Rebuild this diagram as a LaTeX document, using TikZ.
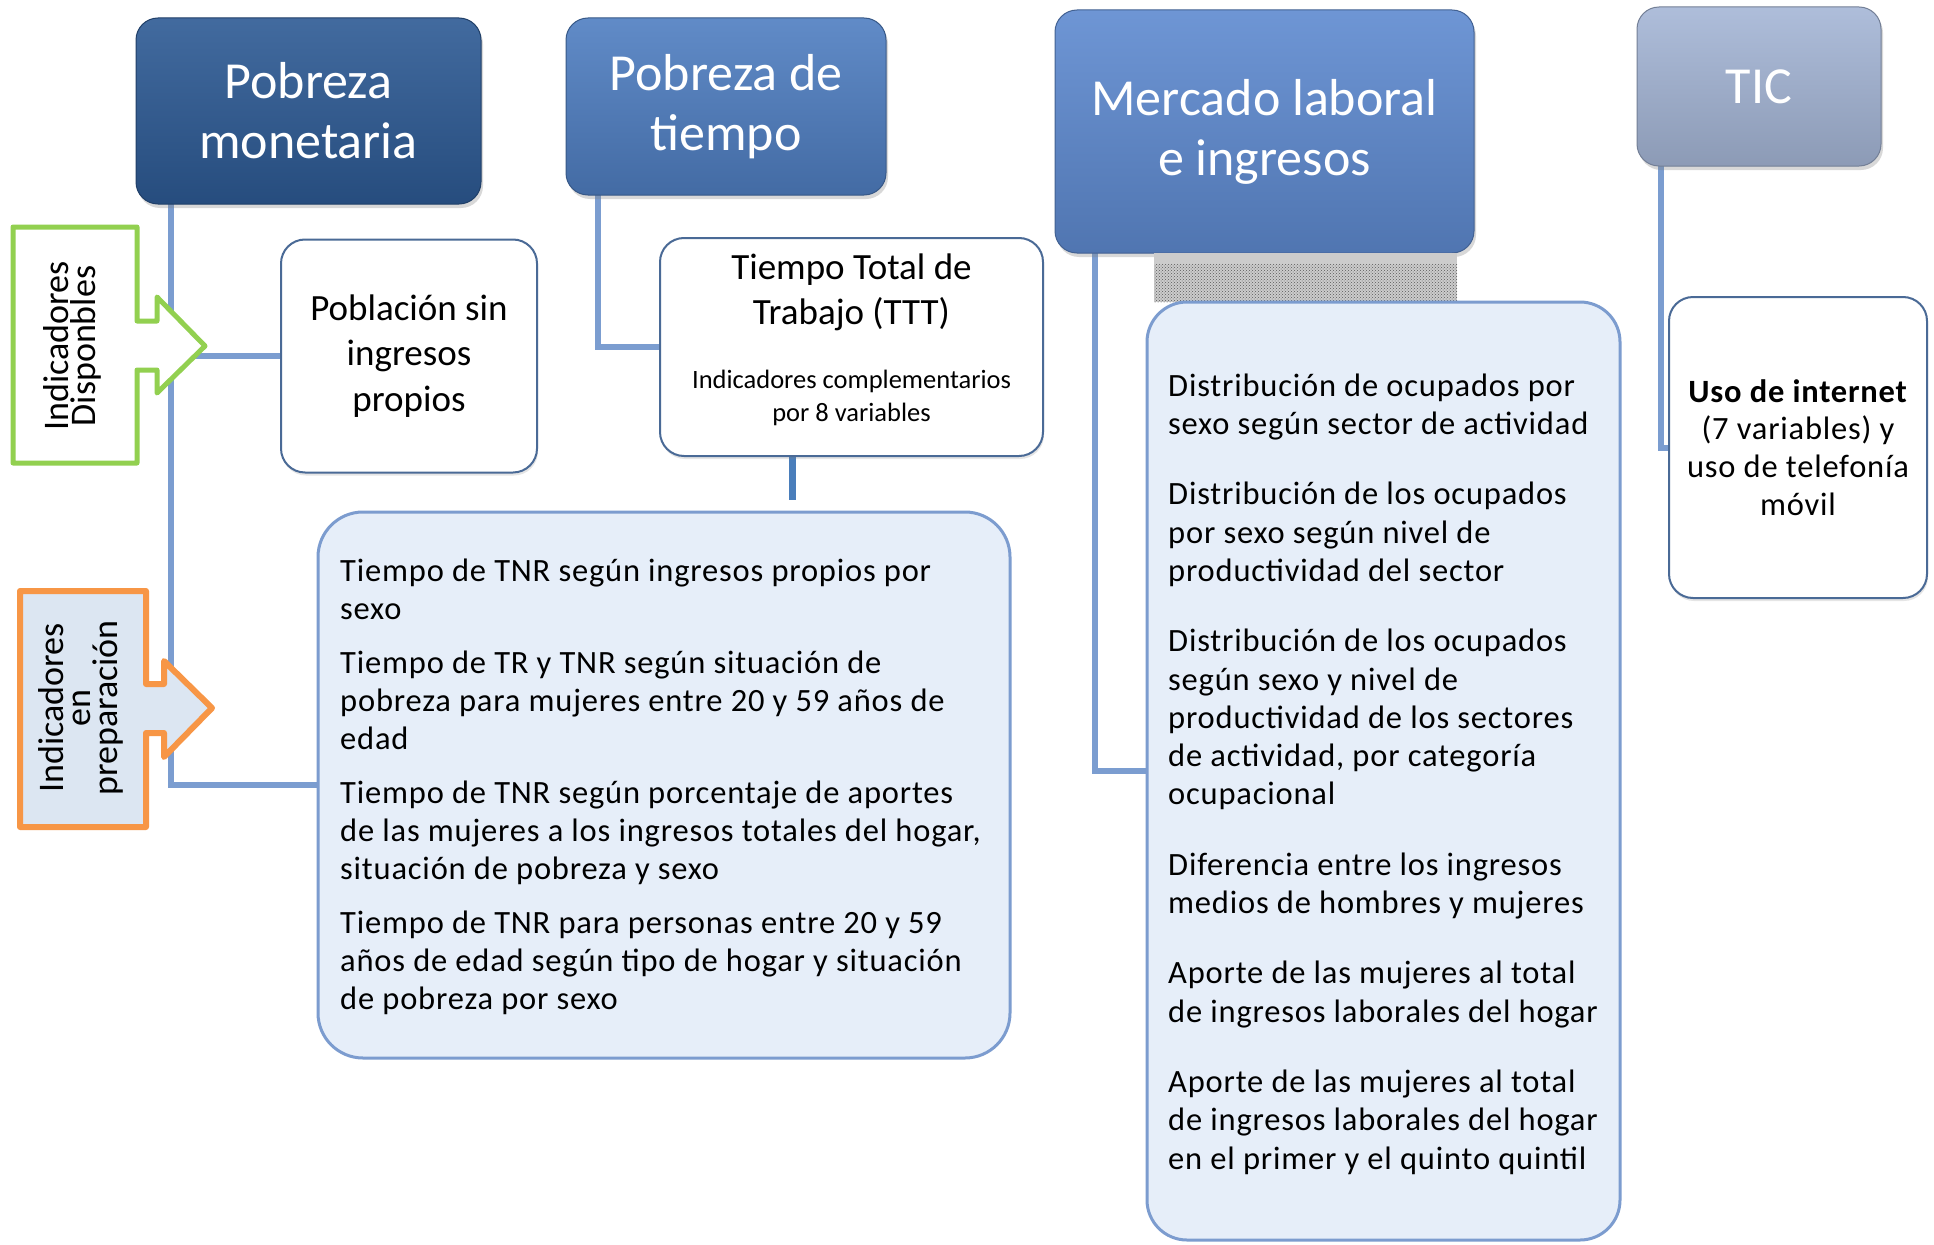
\documentclass[tikz,border=0pt]{standalone}
\usepackage{fontspec}
\setmainfont{Carlito}
\newfontfamily\spacedfont[LetterSpace=2.5]{Carlito}
\usetikzlibrary{positioning,shadows,patterns,backgrounds}

\definecolor{pmblue}{HTML}{2D5A94}
\definecolor{ptblue}{HTML}{4F7EC1}
\definecolor{mlblue}{HTML}{5E8AD0}
\definecolor{ticblue}{HTML}{A5B6D6}
\definecolor{boxedge}{HTML}{4A6A96}
\definecolor{panelfill}{HTML}{E6EEF9}
\definecolor{paneledge}{HTML}{7C9CCF}
\definecolor{connblue}{HTML}{7B9DD0}
\definecolor{linkblue}{HTML}{4A7EBB}
\definecolor{dispgreen}{HTML}{92D050}
\definecolor{preporange}{HTML}{F79646}
\definecolor{prepfill}{HTML}{DCE6F2}

\tikzset{
    header/.style={rounded corners=22pt, draw=#1!70!black, line width=1pt,
        top color=#1!90!white, bottom color=#1!85!black, text=white,
        align=center, inner sep=0pt, outer sep=0pt,
        font=\fontsize{52}{60}\selectfont,
        drop shadow={opacity=0.3, shadow xshift=2pt, shadow yshift=-4pt}},
    whitebox/.style={draw=boxedge, line width=2pt, fill=white, rounded corners=24pt,
        align=center, inner sep=0pt, outer sep=0pt,
        drop shadow={opacity=0.2, shadow xshift=1pt, shadow yshift=-3pt}},
    panel/.style={draw=paneledge, line width=3pt, fill=panelfill, rounded corners=45pt,
        inner sep=0pt, outer sep=0pt},
    listtext/.style={align=left, inner sep=0pt,
        font=\spacedfont\fontsize{32.5}{38.3}\selectfont},
    calltext/.style={align=center, inner sep=0pt, rotate=90,
        font=\fontsize{36}{27}\selectfont},
    conn/.style={draw=connblue, line width=6pt},
    tttlink/.style={draw=linkblue, line width=7pt},
    greenarrow/.style={draw=dispgreen, line width=5pt, fill=white, line join=round},
    orangearrow/.style={draw=preporange, line width=6pt, fill=prepfill, line join=round}
}

\begin{document}
\begin{tikzpicture}[x=1pt, y=-1pt]
    \useasboundingbox (0,0) rectangle (1934,1244);

    % cabeceras
    \node[header=pmblue, minimum width=345pt, minimum height=186pt] (pm) at (308.5,111) {Pobreza\\monetaria};
    \node[header=ptblue, minimum width=320pt, minimum height=177pt] (pt) at (726,106.5) {Pobreza de\\tiempo};
    \node[header=mlblue, minimum width=419pt, minimum height=243pt] (ml) at (1264.5,131.5) {Mercado laboral\\e ingresos};
    \node[header=ticblue, minimum width=244pt, minimum height=159pt] (tic) at (1759,86.5) {TIC};

    % sombra punteada bajo Mercado laboral
    \fill[gray!40] (1154,253) rectangle (1457,302);
    \fill[pattern=crosshatch dots, pattern color=gray!70!black] (1154,264) rectangle (1457,302);

    % cajas de indicadores
    \node[whitebox, minimum width=256pt, minimum height=233pt,
        font=\fontsize{37}{45.5}\selectfont] (pob) at (409,356) {Población sin\\ingresos\\propios};

    \node[whitebox, minimum width=383pt, minimum height=218pt] (ttt) at (851.5,347) {};
    \node[align=center, font=\fontsize{37}{45}\selectfont] (ttttitle) at (851.5,292) {Tiempo Total de\\Trabajo (TTT)};
    \node[align=center, font=\fontsize{26.5}{33}\selectfont] (tttsub) at (851.5,398) {Indicadores complementarios\\por 8 variables};

    \node[whitebox, minimum width=258pt, minimum height=301pt,
        font=\spacedfont\fontsize{32.5}{37.7}\selectfont] (ticbox) at (1798,447.5)
        {\textbf{Uso de internet}\\(7 variables) y\\uso de telefonía\\móvil};

    \node[panel, minimum width=692pt, minimum height=546pt] (tnr) at (664,785) {};
    \node[listtext, anchor=west] (tnrtext) at ([xshift=22pt, yshift=-2pt]tnr.west) {%
        Tiempo de TNR según ingresos propios por\\
        sexo\\[15pt]
        Tiempo de TR y TNR según situación de\\
        pobreza para mujeres entre 20 y 59 años de\\
        edad\\[15pt]
        Tiempo de TNR según porcentaje de aportes\\
        de las mujeres a los ingresos totales del hogar,\\
        situación de pobreza y sexo\\[15pt]
        Tiempo de TNR para personas entre 20 y 59\\
        años de edad según tipo de hogar y situación\\
        de pobreza por sexo};

    \node[panel, minimum width=473pt, minimum height=938pt, rounded corners=40pt] (mlbox) at (1383.5,771) {};
    \node[listtext, anchor=west] (mltext) at ([xshift=21pt, yshift=-3pt]mlbox.west) {%
        Distribución de ocupados por\\
        sexo según sector de actividad\\[32pt]
        Distribución de los ocupados\\
        por sexo según nivel de\\
        productividad del sector\\[32pt]
        Distribución de los ocupados\\
        según sexo y nivel de\\
        productividad de los sectores\\
        de actividad, por categoría\\
        ocupacional\\[32pt]
        Diferencia entre los ingresos\\
        medios de hombres y mujeres\\[32pt]
        Aporte de las mujeres al total\\
        de ingresos laborales del hogar\\[32pt]
        Aporte de las mujeres al total\\
        de ingresos laborales del hogar\\
        en el primer y el quinto quintil};

    % conectores
    \coordinate (tnrgap) at (792,500);
    \begin{pgfonlayer}{background}
        \fill[white] (0,0) rectangle (1934,1244);
        \draw[conn] ([xshift=-137.5pt]pm.south) |- (tnr.west);
        \draw[conn] ([xshift=-137.5pt]pm.south |- pob.west) -- (pob.west);
        \draw[conn] ([xshift=-128pt]pt.south) |- (ttt.west);
        \draw[conn] ([xshift=-169.5pt]ml.south) |- (mlbox.west);
        \draw[conn] ([xshift=-98pt]tic.south) |- (ticbox.west);
        \draw[tttlink] (ttt.south -| tnrgap) -- (tnrgap);
    \end{pgfonlayer}

    % flechas laterales
    \draw[greenarrow] (13,227) -- (137,227) -- (137,321) -- (157,321) -- (157,297) -- (205,346)
        -- (157,393) -- (157,370) -- (137,370) -- (137,463) -- (13,463) -- cycle;
    \node[calltext] (disp) at (72,346) {Indicadores\\Disponbles};

    \draw[orangearrow] (20,591) -- (146,591) -- (146,684) -- (164,684) -- (164,661) -- (212,708)
        -- (164,757) -- (164,733) -- (146,733) -- (146,827) -- (20,827) -- cycle;
    \node[calltext] (prep) at (81,708) {Indicadores\\en\\preparación};
\end{tikzpicture}
\end{document}
